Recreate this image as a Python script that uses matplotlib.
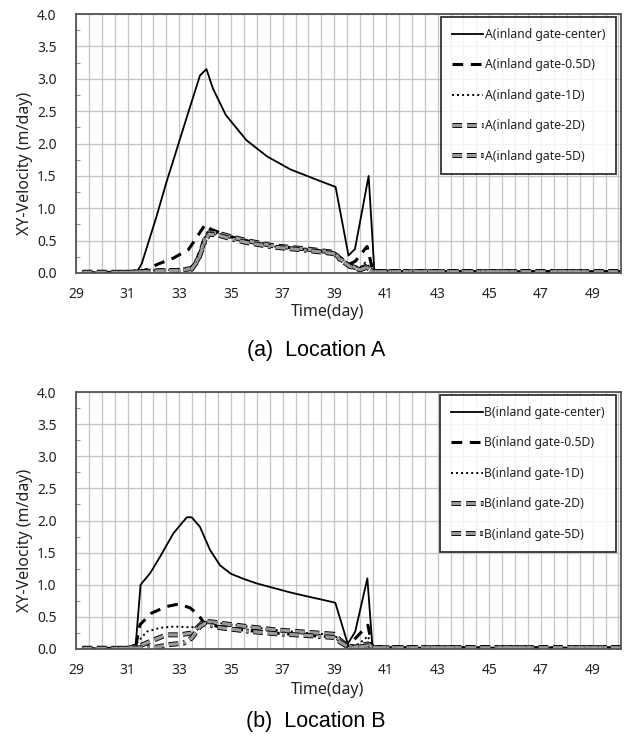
import matplotlib
matplotlib.use("Agg")
import matplotlib.pyplot as plt
import matplotlib.patheffects as pe
import numpy as np

# ---- data ----
# Location A
t_a_center = [29.25, 30.0, 31.0, 31.35, 31.55, 31.8, 32.1, 32.5, 32.8, 33.3, 33.8, 34.05,
              34.3, 34.8, 35.6, 36.4, 37.3, 38.45, 39.05, 39.55, 39.8, 40.33, 40.55, 42.0, 45.0, 48.0, 50.1]
v_a_center = [0.01, 0.01, 0.01, 0.01, 0.15, 0.47, 0.85, 1.40, 1.78, 2.42, 3.05, 3.15,
              2.85, 2.44, 2.05, 1.80, 1.60, 1.42, 1.33, 0.27, 0.37, 1.50, 0.04, 0.03, 0.03, 0.03, 0.03]

t_a_05d = [29.25, 31.0, 31.45, 31.8, 32.13, 32.77, 33.35, 33.61, 34.0, 34.2, 34.45, 35.0, 35.6,
           36.65, 37.94, 38.97, 39.22, 39.6, 39.81, 40.27, 40.5, 42.0, 45.0, 48.0, 50.1]
v_a_05d = [0.01, 0.01, 0.02, 0.06, 0.13, 0.23, 0.36, 0.51, 0.75, 0.68, 0.64, 0.56, 0.50,
           0.42, 0.36, 0.32, 0.24, 0.14, 0.18, 0.41, 0.02, 0.02, 0.02, 0.02, 0.02]

t_a_1d = [29.25, 31.0, 31.6, 32.0, 33.0, 33.48, 33.73, 34.0, 34.12, 34.45, 35.0, 35.6,
          36.65, 37.94, 38.97, 39.22, 39.61, 40.0, 40.2, 40.52, 42.0, 45.0, 48.0, 50.1]
v_a_1d = [0.01, 0.01, 0.02, 0.04, 0.05, 0.08, 0.26, 0.57, 0.64, 0.61, 0.55, 0.49,
          0.41, 0.36, 0.31, 0.23, 0.13, 0.08, 0.16, 0.03, 0.02, 0.02, 0.02, 0.02]

t_a_2d = [29.25, 31.0, 31.6, 32.0, 33.0, 33.48, 33.73, 34.0, 34.15, 34.45, 35.0, 35.6,
          36.65, 37.94, 38.97, 39.22, 39.61, 40.0, 40.2, 40.52, 42.0, 45.0, 48.0, 50.1]
v_a_2d = [0.01, 0.01, 0.02, 0.03, 0.04, 0.07, 0.22, 0.53, 0.62, 0.62, 0.56, 0.50,
          0.42, 0.37, 0.32, 0.22, 0.11, 0.06, 0.10, 0.02, 0.02, 0.02, 0.02, 0.02]

t_a_5d = [29.25, 31.0, 31.6, 32.0, 33.0, 33.48, 33.73, 34.0, 34.15, 34.45, 35.0, 35.6,
          36.65, 37.94, 38.97, 39.22, 39.61, 40.0, 40.2, 40.52, 42.0, 45.0, 48.0, 50.1]
v_a_5d = [0.01, 0.01, 0.02, 0.03, 0.04, 0.06, 0.20, 0.50, 0.60, 0.59, 0.53, 0.47,
          0.40, 0.35, 0.30, 0.21, 0.10, 0.05, 0.08, 0.02, 0.02, 0.02, 0.02, 0.02]

# Location B
t_b_center = [29.25, 31.0, 31.3, 31.5, 31.87, 32.26, 32.77, 33.29, 33.48, 33.8, 34.19, 34.58,
              35.0, 35.5, 36.0, 36.65, 37.3, 37.94, 38.5, 39.04, 39.52, 39.81, 40.28, 40.48,
              42.0, 45.0, 48.0, 50.1]
v_b_center = [0.01, 0.01, 0.01, 1.00, 1.18, 1.44, 1.80, 2.05, 2.05, 1.90, 1.54, 1.30,
              1.17, 1.09, 1.02, 0.95, 0.88, 0.82, 0.77, 0.72, 0.08, 0.27, 1.10, 0.02,
              0.02, 0.02, 0.02, 0.02]

t_b_05d = [29.25, 31.0, 31.3, 31.48, 31.93, 32.5, 32.97, 33.42, 33.74, 33.95, 34.3, 34.6,
           35.6, 36.65, 37.94, 38.97, 39.22, 39.5, 39.85, 40.3, 40.48, 42.0, 45.0, 48.0, 50.1]
v_b_05d = [0.01, 0.01, 0.02, 0.38, 0.56, 0.66, 0.70, 0.64, 0.53, 0.41, 0.37, 0.34,
           0.29, 0.25, 0.21, 0.19, 0.12, 0.04, 0.18, 0.37, 0.02, 0.02, 0.02, 0.02, 0.02]

t_b_1d = [29.25, 31.0, 31.35, 31.74, 32.26, 32.8, 33.29, 33.7, 34.0, 34.3, 34.6, 35.6,
          36.65, 37.94, 38.97, 39.22, 39.5, 39.8, 40.14, 40.3, 40.48, 42.0, 45.0, 48.0, 50.1]
v_b_1d = [0.01, 0.01, 0.09, 0.27, 0.33, 0.35, 0.34, 0.34, 0.41, 0.42, 0.40, 0.35,
          0.30, 0.25, 0.22, 0.14, 0.05, 0.04, 0.14, 0.20, 0.02, 0.02, 0.02, 0.02, 0.02]

t_b_2d = [29.25, 31.0, 31.48, 32.0, 32.5, 33.03, 33.48, 33.74, 33.95, 34.3, 34.6, 35.6,
          36.65, 37.94, 38.97, 39.22, 39.5, 39.8, 40.3, 40.48, 42.0, 45.0, 48.0, 50.1]
v_b_2d = [0.01, 0.01, 0.05, 0.14, 0.22, 0.22, 0.25, 0.35, 0.43, 0.42, 0.40, 0.35,
          0.30, 0.26, 0.23, 0.14, 0.05, 0.03, 0.08, 0.02, 0.02, 0.02, 0.02, 0.02]

t_b_5d = [29.25, 31.0, 31.6, 32.13, 32.64, 33.16, 33.48, 33.8, 34.0, 34.3, 34.6, 35.6,
          36.65, 37.94, 38.97, 39.22, 39.5, 39.8, 40.3, 40.48, 42.0, 45.0, 48.0, 50.1]
v_b_5d = [0.01, 0.01, 0.02, 0.03, 0.07, 0.09, 0.17, 0.35, 0.40, 0.36, 0.33, 0.28,
          0.24, 0.21, 0.18, 0.11, 0.04, 0.02, 0.05, 0.02, 0.02, 0.02, 0.02, 0.02]

series_suffix = ["center", "0.5D", "1D", "2D", "5D"]
x_ticks = [29, 31, 33, 35, 37, 39, 41, 43, 45, 47, 49]
y_ticks = [0.0, 0.5, 1.0, 1.5, 2.0, 2.5, 3.0, 3.5, 4.0]

plt.rcParams['font.family'] = ['Noto Sans', 'DejaVu Sans']

# line styles
STYLES = [
    dict(color="black", lw=1.3, ls="-"),
    dict(color="black", lw=2.2, ls=(0, (3.5, 2.5))),
    dict(color="black", lw=1.4, ls=(0, (1, 1.6))),
    dict(color="#9a9a9a", lw=2.3, ls=(0, (3, 1.6)), solid_capstyle="round"),
    dict(color="#9a9a9a", lw=2.3, ls=(0, (3, 1.5, 3, 1.5, 0.8, 1.5))),
]
OUTLINE = [None, None, None,
           [pe.Stroke(linewidth=3.6, foreground="black"), pe.Normal()],
           [pe.Stroke(linewidth=3.6, foreground="black"), pe.Normal()]]


def draw_panel(ax, data, prefix):
    for (t, v), st, outline, suf in zip(data, STYLES, OUTLINE, series_suffix):
        line, = ax.plot(t, v, label=f"{prefix}(inland gate-{suf})", **st)
        if outline:
            line.set_path_effects(outline)
    ax.set_xlim(29, 50.1)
    ax.set_ylim(0, 4.0)
    ax.set_xticks(np.arange(29, 50.01, 0.5), minor=True)
    ax.set_xticks(x_ticks)
    ax.set_yticks(y_ticks)
    ax.set_yticks(np.arange(0, 4.01, 0.25), minor=True)
    ax.set_yticklabels([f"{y:.1f}" for y in y_ticks])
    ax.grid(True, which="major", color="#c4c4c4", lw=0.9)
    ax.grid(True, which="minor", axis="x", color="#c4c4c4", lw=0.9)
    ax.set_axisbelow(True)
    ax.tick_params(axis="both", which="both", labelsize=10, colors="#222222", length=0)
    ax.tick_params(axis="x", pad=10)
    ax.tick_params(axis="y", pad=14)
    ax.tick_params(axis="y", which="minor", length=3, direction="in", color="#777777")
    for s in ax.spines.values():
        s.set_color("#555555")
        s.set_linewidth(1.3)
    leg = ax.legend(loc="upper right", bbox_to_anchor=(0.991, 0.988), fontsize=8.8,
                    frameon=True, fancybox=False, edgecolor="black", labelspacing=1.42,
                    handlelength=2.6, handletextpad=0.1, borderpad=0.9, borderaxespad=0.0)
    leg.get_frame().set_linewidth(1.3)
    for txt in leg.get_texts():
        txt.set_color("#222222")


fig = plt.figure(figsize=(6.24, 7.40), dpi=100)
ax1 = fig.add_axes([76 / 624, 1 - 273 / 740, 545 / 624, 259 / 740])
ax2 = fig.add_axes([76 / 624, 1 - 649 / 740, 545 / 624, 257 / 740])

draw_panel(ax1, [(t_a_center, v_a_center), (t_a_05d, v_a_05d), (t_a_1d, v_a_1d),
                 (t_a_2d, v_a_2d), (t_a_5d, v_a_5d)], "A")
draw_panel(ax2, [(t_b_center, v_b_center), (t_b_05d, v_b_05d), (t_b_1d, v_b_1d),
                 (t_b_2d, v_b_2d), (t_b_5d, v_b_5d)], "B")

# axis titles and captions
for yc in (312, 690):
    fig.text(328 / 624, 1 - yc / 740, "Time(day)", ha="center", va="center",
             fontsize=11.5, color="#222222")
for yl in (163, 540):
    fig.text(25 / 624, 1 - yl / 740, "XY-Velocity (m/day)", rotation=90, ha="center",
             va="center", fontsize=11.5, color="#222222")
fig.text(316 / 624, 1 - 350 / 740, "(a)  Location A", ha="center", va="center",
         fontsize=15.5, family="Liberation Sans", color="black")
fig.text(316 / 624, 1 - 722 / 740, "(b)  Location B", ha="center", va="center",
         fontsize=15.5, family="Liberation Sans", color="black")

fig.savefig("out.png", dpi=100, facecolor="white")
